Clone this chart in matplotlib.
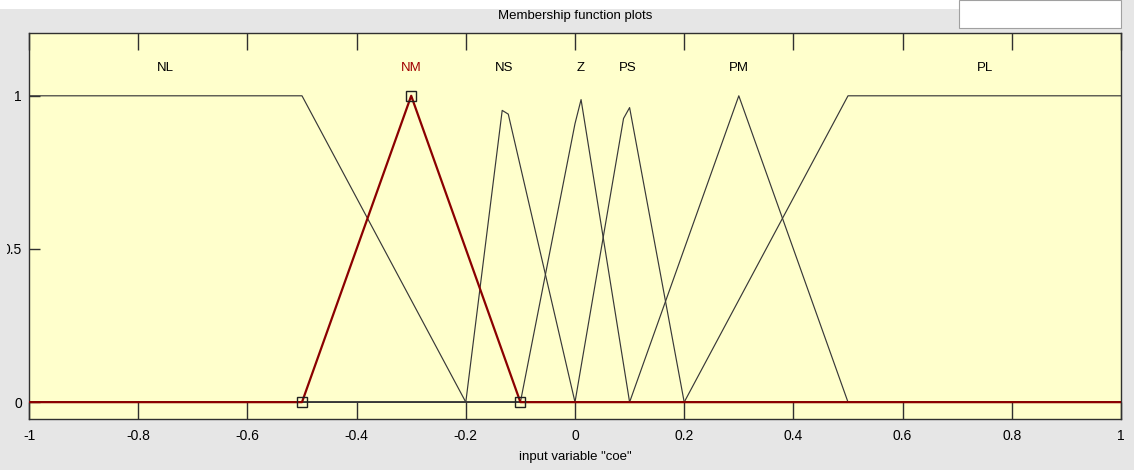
import numpy as np
import matplotlib
matplotlib.use("Agg")
import matplotlib.pyplot as plt
from matplotlib.patches import Rectangle

# membership functions of input variable "coe" (vertices)
mf_names = ["NL", "NM", "NS", "Z", "PS", "PM", "PL"]
mf_x = [
    [-1.0, -0.5, -0.2],
    [-0.5, -0.3, -0.1],
    [-0.2, -0.13, 0.0],
    [-0.1, 0.01, 0.1],
    [0.0, 0.096, 0.2],
    [0.1, 0.3, 0.5],
    [0.2, 0.5, 1.0],
]
mf_y = [
    [1, 1, 0],
    [0, 1, 0],
    [0, 1, 0],
    [0, 1, 0],
    [0, 1, 0],
    [0, 1, 0],
    [0, 1, 1],
]
label_x = [-0.75, -0.3, -0.13, 0.01, 0.096, 0.3, 0.75]
selected = "NM"

xticks = [-1, -0.8, -0.6, -0.4, -0.2, 0, 0.2, 0.4, 0.6, 0.8, 1]
xtick_labels = ["-1", "-0.8", "-0.6", "-0.4", "-0.2", "0", "0.2", "0.4", "0.6", "0.8", "1"]
yticks = [0, 0.5, 1]
ytick_labels = ["0", "0.5", "1"]

FONT = ["Liberation Sans Narrow", "Liberation Sans", "DejaVu Sans"]
plt.rcParams["font.family"] = FONT

W, H = 1134, 470
BG = "#e6e6e6"
fig = plt.figure(figsize=(W / 100, H / 100), dpi=100, facecolor=BG)

# white strip and box at the top of the window
fig.patches.append(Rectangle((0, 1 - 9 / H), 1122 / W, 9 / H, transform=fig.transFigure,
                             facecolor="white", edgecolor="none"))
fig.patches.append(Rectangle((959 / W, 1 - 28 / H), 162 / W, 28 / H, transform=fig.transFigure,
                             facecolor="white", edgecolor="#a0a0a0", linewidth=0.8))

ax = fig.add_axes([29 / W, 51 / H, 1092 / W, 386 / H])
ax.set_facecolor("#ffffcc")

# MATLAB style sampling of the universe
xs = np.linspace(-1, 1, 181)
for name, px, py in zip(mf_names, mf_x, mf_y):
    if name == selected:
        continue
    ys = np.interp(xs, px, py, left=py[0], right=py[-1])
    ax.plot(xs, ys, color="#383838", linewidth=0.85, zorder=2)

# selected MF drawn last, in red, with its vertex handles
i = mf_names.index(selected)
ys = np.interp(xs, mf_x[i], mf_y[i], left=mf_y[i][0], right=mf_y[i][-1])
ax.plot(xs, ys, color="#8b0000", linewidth=1.6, zorder=3)
ax.plot(mf_x[i], mf_y[i], linestyle="none", marker="s", markersize=7.5,
        markerfacecolor="none", markeredgecolor="#202020", markeredgewidth=1.0, zorder=4)

for name, lx in zip(mf_names, label_x):
    ax.text(lx, 1.09, name, ha="center", va="center", fontsize=9.5,
            color="#a00000" if name == selected else "black")

ax.set_xlim(-1, 1)
ax.set_ylim(-0.055, 1.205)
ax.set_xticks(xticks)
ax.set_xticklabels(xtick_labels)
ax.set_yticks(yticks)
ax.set_yticklabels(ytick_labels)
ax.tick_params(axis="x", direction="in", length=12, width=1.0, top=True, colors="#303030",
               labelcolor="black", labelsize=10, pad=7)
ax.tick_params(axis="y", direction="in", length=8, width=1.0, colors="#303030",
               labelcolor="black", labelsize=10, pad=5)
for s in ax.spines.values():
    s.set_color("#303030")
    s.set_linewidth(1.0)

ax.set_title("Membership function plots", fontsize=9.5, pad=10)
ax.set_xlabel('input variable "coe"', fontsize=9.5, labelpad=6)

# the window edge hides the start of the "0.5" label
fig.add_artist(Rectangle((0, 60 / H), 7 / W, 340 / H, transform=fig.transFigure,
                         facecolor=BG, edgecolor="none", zorder=10))

fig.savefig("out.png", dpi=100, facecolor=fig.get_facecolor())
